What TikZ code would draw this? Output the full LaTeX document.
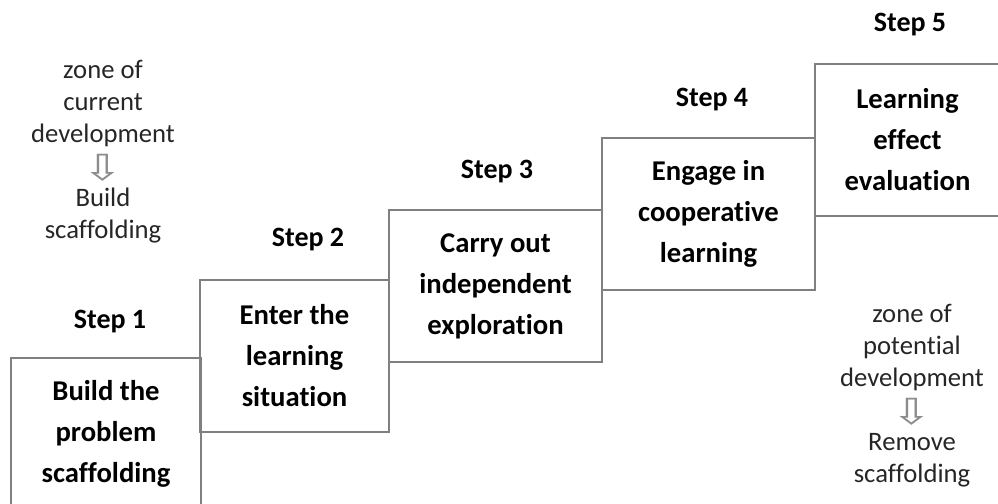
\documentclass[tikz,border=0pt]{standalone}
\usepackage{fontspec}
\setmainfont{Carlito}[Ligatures=NoCommon]
\newfontfamily\arrowfont{DejaVu Sans}
\newcommand\downhollow{{\arrowfont\fontsize{27}{24}\selectfont\color{black!45}\smash{\raisebox{-4.5pt}{\scalebox{1.35}[1]{⇩}}}}}
\begin{document}
\begin{tikzpicture}[x=0.75pt,y=-0.75pt,
    stepbox/.style={draw=black!50,line width=1.1pt,minimum height=114pt,inner sep=0pt,
      align=center,font=\bfseries\fontsize{21.5}{30.75}\selectfont},
    steplabel/.style={font=\bfseries\fontsize{21}{24}\selectfont},
    zonetext/.style={align=center,text=black!85,font=\fontsize{20}{24}\selectfont}]
   \clip (0,0) rectangle (998,503);
   % boxes of the staircase
   \node[stepbox,minimum width=142.5pt] (build) at (106,434) {Build the\\problem\\scaffolding};
   \node[stepbox,minimum width=141.75pt] (enter) at (294.5,356) {Enter the\\learning\\situation};
   \node[stepbox,minimum width=159.75pt] (carry) at (495.5,286) {Carry out\\independent\\exploration};
   \node[stepbox,minimum width=159.75pt] (engage) at (708.5,214) {Engage in\\cooperative\\learning};
   \node[stepbox,minimum width=138.75pt] (effect) at (907.5,140) {Learning\\effect\\evaluation};
   % step labels
   \node[steplabel] (s1) at (110,322) {Step 1};
   \node[steplabel] (s2) at (308,240) {Step 2};
   \node[steplabel] (s3) at (497,172) {Step 3};
   \node[steplabel] (s4) at (712,100) {Step 4};
   \node[steplabel] (s5) at (910,25) {Step 5};
   % zones
   \node[zonetext] (current) at (103,152) {zone of\\current\\development\\\downhollow\\Build\\scaffolding};
   \node[zonetext] (potential) at (912,396) {zone of\\potential\\development\\\downhollow\\Remove\\scaffolding};
\end{tikzpicture}
\end{document}
